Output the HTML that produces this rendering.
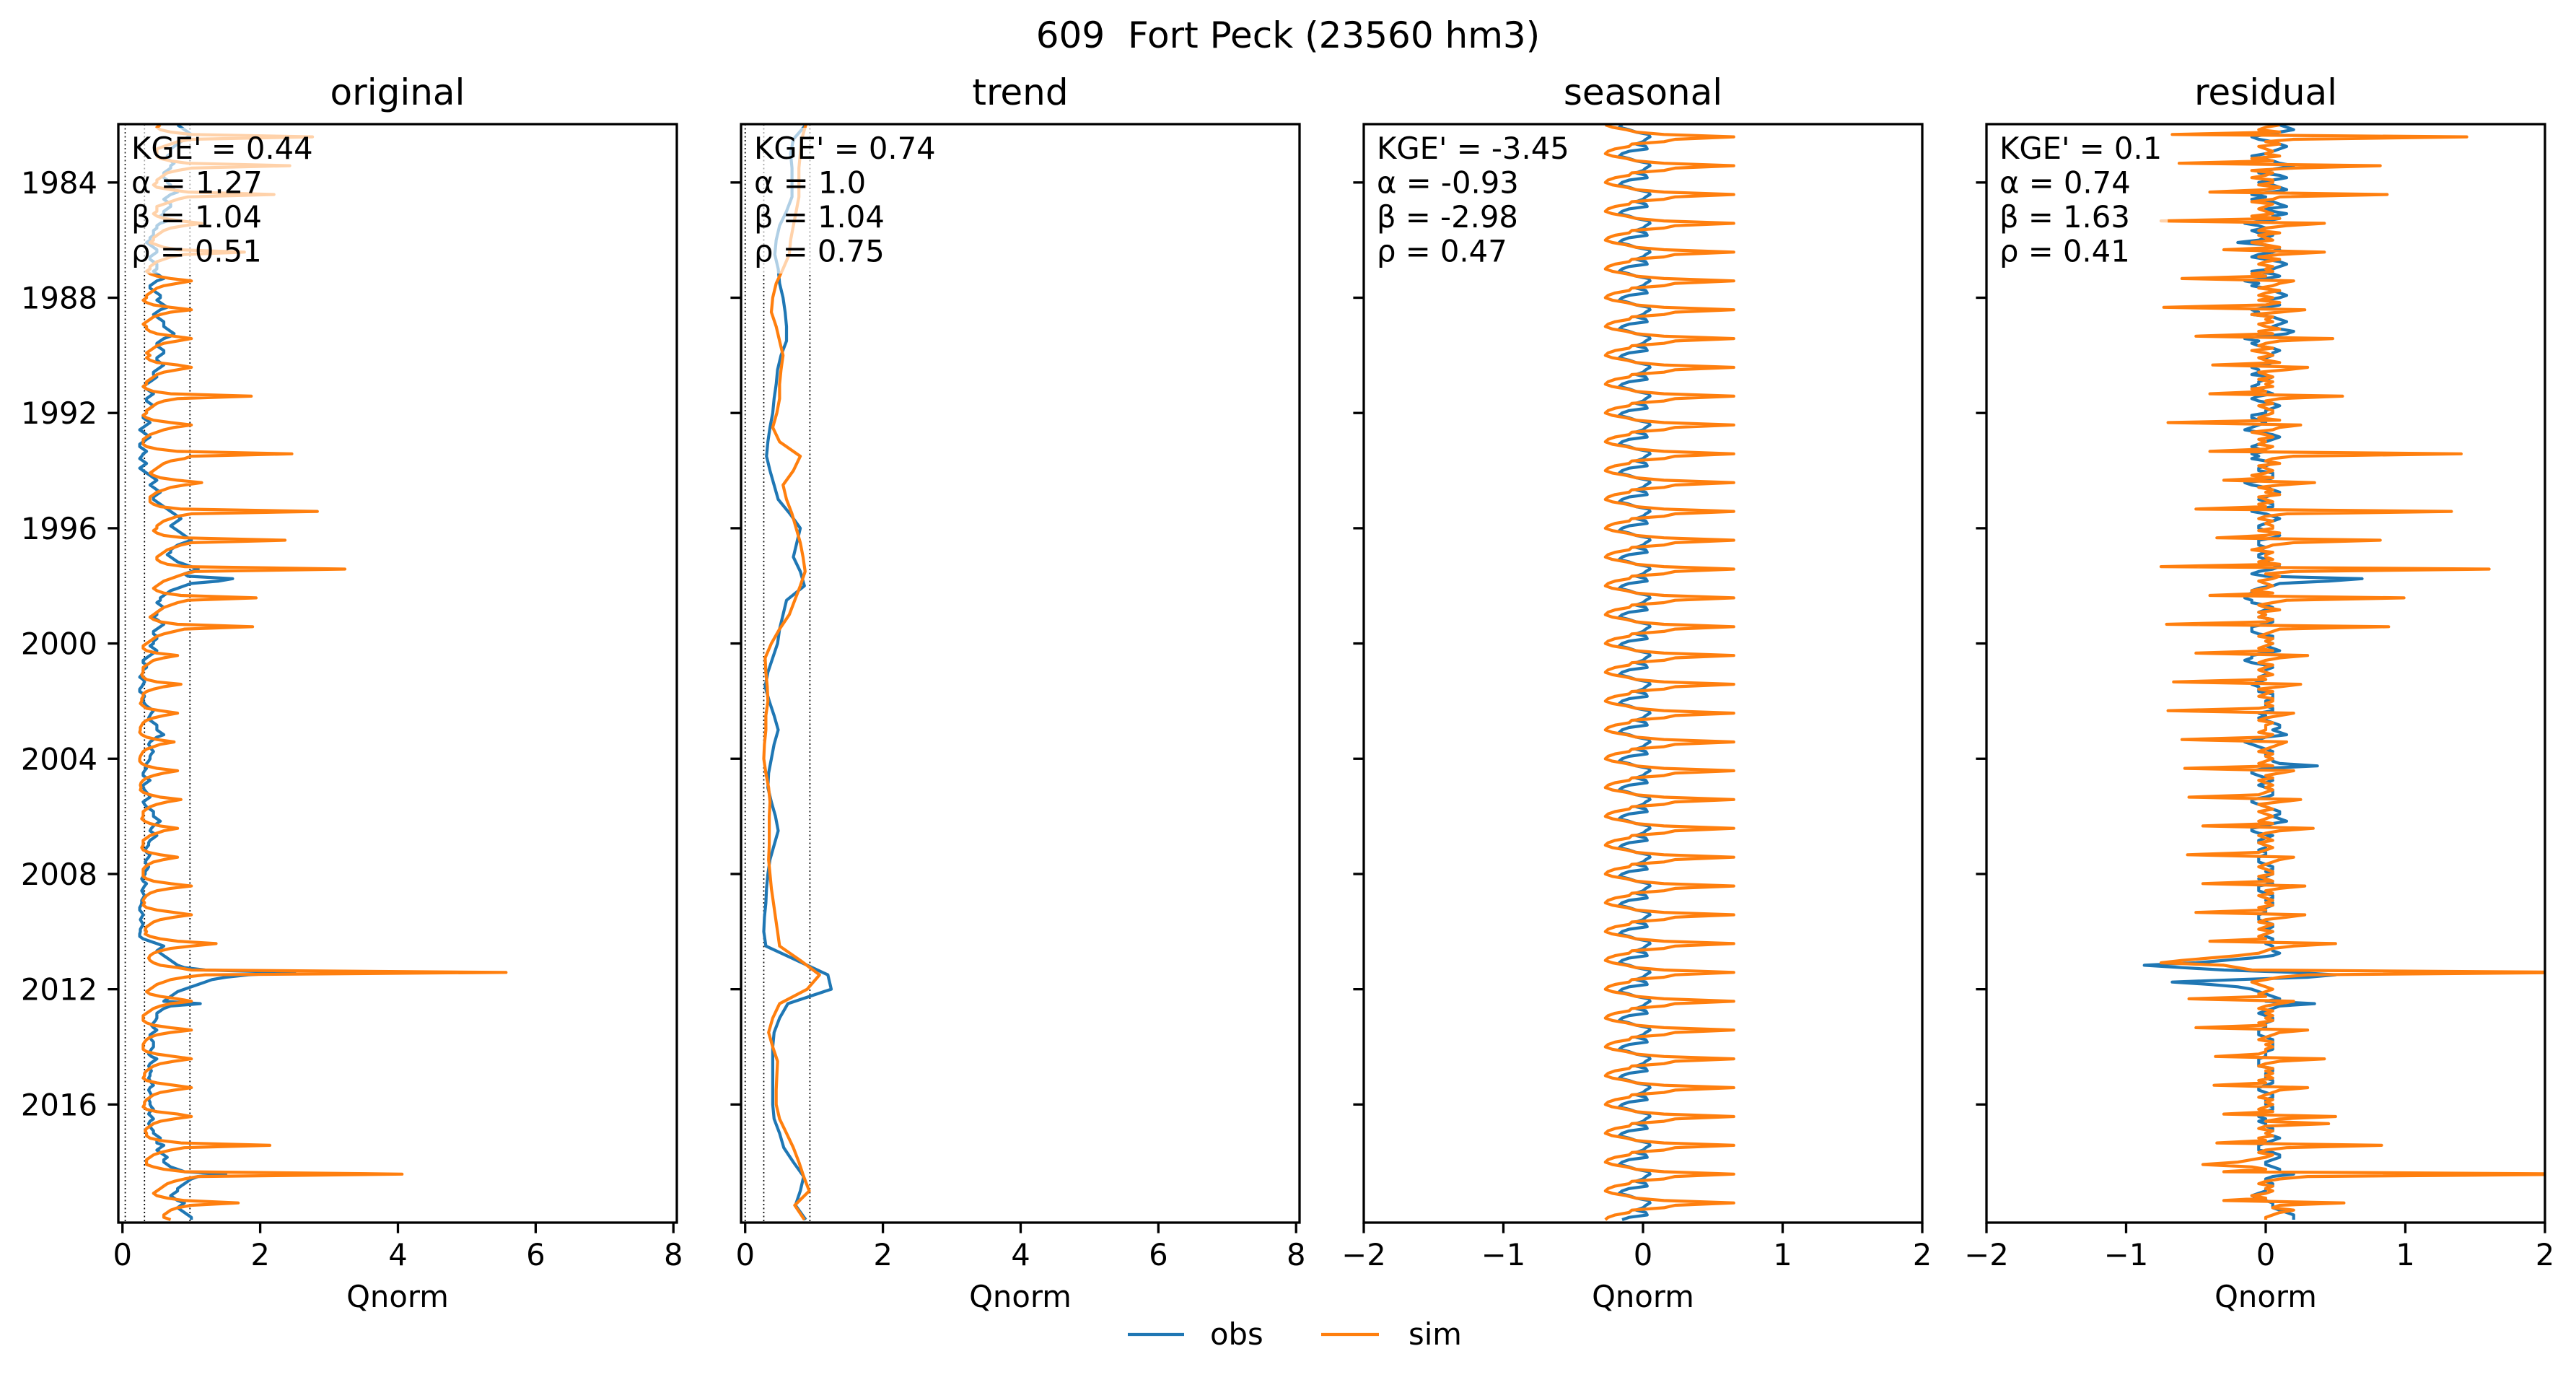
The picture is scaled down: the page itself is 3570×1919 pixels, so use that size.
<!DOCTYPE html>
<html><head><meta charset="utf-8"><style>
html,body{margin:0;padding:0;background:#fff}
svg{display:block;font-family:"DejaVu Sans","Liberation Sans",sans-serif}
</style></head><body>
<svg id="fig" xmlns="http://www.w3.org/2000/svg" width="3570" height="1919" viewBox="0 0 3570 1919">
<rect x="0" y="0" width="3570" height="1919" fill="#fff"/>
<text x="1785" y="66" font-size="50" text-anchor="middle" style="white-space:pre" xml:space="preserve">609  Fort Peck (23560 hm3)</text>
<g>
<line x1="1563" y1="1849" x2="1641" y2="1849" stroke="#1f77b4" stroke-width="4.2"/>
<text x="1677" y="1863" font-size="41.7">obs</text>
<line x1="1831" y1="1849" x2="1911" y2="1849" stroke="#ff7f0e" stroke-width="4.2"/>
<text x="1952" y="1863" font-size="41.7">sim</text>
</g>
</svg>
<script>
// ---------- data ----------
const yearTicks = [1984,1988,1992,1996,2000,2004,2008,2012,2016];
const startYear = 1982;
const panelTitles = ["original","trend","seasonal","residual"];
const statsOriginal = ["KGE' = 0.44","α = 1.27","β = 1.04","ρ = 0.51"];
const statsTrend = ["KGE' = 0.74","α = 1.0","β = 1.04","ρ = 0.75"];
const statsSeasonal = ["KGE' = -3.45","α = -0.93","β = -2.98","ρ = 0.47"];
const statsResidual = ["KGE' = 0.1","α = 0.74","β = 1.63","ρ = 0.41"];
const ticksPositive = [0,2,4,6,8];
const ticksSymmetric = [-2,-1,0,1,2];
const refLinesOriginal = [0.04,0.32,0.98];
const refLinesTrend = [0.0,0.27,0.94];

// monthly original series, Jan 1982 .. Jan 2020
const origObs = [
.8,.85,.9,.95,1.0,.95,.9,.85,.8,.75,.7,.7,
.7,.65,.65,.7,.75,.7,.7,.65,.6,.6,.6,.65,
.65,.7,.7,.75,.8,.7,.65,.6,.65,.7,.7,.65,
.6,.6,.55,.6,.65,.55,.5,.5,.45,.45,.45,.4,
.4,.35,.4,.45,.5,.5,.45,.4,.4,.45,.5,.5,
.5,.45,.5,.55,.6,.5,.45,.4,.4,.45,.5,.55,
.55,.5,.55,.6,.65,.55,.5,.45,.5,.55,.6,.6,
.6,.65,.7,.75,.7,.6,.55,.5,.5,.55,.6,.6,
.55,.5,.5,.55,.6,.55,.5,.45,.45,.5,.45,.4,
.35,.3,.35,.4,.45,.4,.35,.35,.4,.45,.4,.35,
.35,.3,.3,.35,.4,.35,.3,.25,.3,.35,.4,.35,
.3,.25,.25,.3,.35,.3,.28,.25,.3,.35,.3,.25,
.3,.35,.4,.45,.5,.45,.4,.45,.5,.55,.5,.45,
.45,.5,.55,.6,.65,.7,.75,.8,.85,.8,.75,.7,
.75,.8,.85,.9,.95,1.0,.9,.8,.75,.7,.7,.65,
.7,.75,.8,.9,1.0,1.1,1.0,.9,.95,1.6,1.4,1.0,
.9,.8,.7,.65,.6,.55,.55,.5,.55,.6,.55,.5,
.5,.45,.5,.55,.6,.55,.5,.45,.45,.5,.5,.45,
.45,.4,.45,.5,.45,.4,.35,.3,.3,.35,.35,.3,
.3,.28,.25,.3,.32,.3,.28,.25,.25,.3,.32,.3,
.3,.32,.35,.4,.45,.42,.4,.38,.4,.45,.5,.5,
.5,.55,.6,.5,.45,.4,.38,.4,.42,.45,.42,.4,
.4,.38,.35,.33,.35,.32,.3,.3,.35,.4,.35,.3,
.3,.32,.35,.38,.4,.35,.3,.32,.35,.4,.45,.45,
.45,.5,.55,.5,.45,.42,.4,.45,.5,.45,.4,.38,
.38,.35,.33,.35,.4,.38,.35,.33,.35,.38,.36,.33,
.33,.3,.28,.3,.35,.32,.3,.28,.3,.32,.3,.28,
.28,.27,.25,.25,.28,.3,.28,.26,.28,.3,.28,.26,
.26,.25,.25,.3,.4,.5,.6,.55,.5,.55,.6,.65,
.7,.75,.8,.9,1.2,2.5,1.83,1.5,1.3,1.2,1.1,1.0,
.9,.8,.75,.7,.65,.6,1.13,.7,.6,.55,.5,.5,
.5,.48,.45,.42,.45,.5,.45,.4,.4,.42,.45,.45,
.45,.42,.4,.38,.42,.5,.45,.4,.38,.4,.42,.4,
.4,.38,.4,.42,.45,.4,.38,.4,.42,.4,.38,.4,
.4,.42,.45,.4,.38,.42,.45,.4,.38,.4,.42,.45,
.45,.5,.55,.5,.5,.6,.55,.5,.55,.6,.65,.6,
.6,.65,.7,.8,.9,1.5,1.1,1.0,.95,.9,.85,.8,
.8,.75,.7,.75,.8,.9,.85,.8,.85,.9,.95,1.0,
1.0];
const origSim = [
.55,.5,.55,.7,1.0,2.76,1.0,.8,.7,.6,.5,.5,
.5,.5,.55,.7,.95,2.43,1.0,.8,.65,.6,.55,.5,
.5,.45,.5,.7,.95,2.2,.95,.8,.7,.6,.5,.5,
.5,.45,.5,.6,.85,1.15,.9,.7,.6,.55,.5,.45,
.45,.4,.5,.6,.8,1.77,.9,.7,.6,.5,.45,.4,
.4,.35,.4,.5,.7,1.0,.8,.6,.5,.45,.4,.35,
.35,.3,.35,.45,.7,1.0,.7,.55,.45,.4,.35,.3,
.35,.35,.4,.5,.75,1.0,.8,.6,.5,.45,.4,.35,
.4,.35,.4,.5,.8,1.0,.8,.6,.5,.45,.4,.35,
.35,.3,.35,.45,.7,1.87,.8,.6,.5,.45,.4,.35,
.35,.3,.35,.45,.7,1.0,.75,.6,.5,.4,.35,.3,
.3,.3,.35,.5,.8,2.46,1.0,.9,.7,.6,.55,.5,
.45,.4,.45,.55,.8,1.15,.9,.7,.6,.5,.45,.4,
.4,.4,.45,.55,.85,2.83,1.0,.8,.7,.6,.55,.5,
.5,.45,.5,.6,.9,2.36,1.0,.85,.75,.65,.6,.55,
.5,.5,.55,.65,.9,3.23,1.05,.9,.8,.7,.6,.55,
.5,.45,.5,.6,.85,1.94,.95,.8,.7,.6,.55,.5,
.45,.4,.45,.55,.8,1.89,.9,.75,.6,.5,.45,.4,
.35,.3,.3,.35,.5,.8,.6,.45,.4,.35,.3,.3,
.3,.28,.3,.35,.5,.85,.6,.45,.35,.3,.3,.28,
.28,.26,.3,.35,.55,.8,.6,.45,.35,.3,.28,.26,
.26,.25,.28,.35,.5,.75,.55,.45,.35,.3,.28,.26,
.25,.25,.28,.35,.5,.8,.6,.45,.35,.3,.27,.26,
.27,.26,.3,.4,.55,.85,.65,.5,.4,.35,.3,.3,
.3,.28,.32,.4,.55,.8,.6,.5,.4,.35,.3,.3,
.3,.28,.3,.38,.55,.8,.6,.45,.38,.33,.3,.3,
.3,.3,.35,.45,.7,1.0,.7,.5,.4,.35,.32,.3,
.32,.3,.35,.5,.75,1.0,.75,.55,.45,.4,.35,.33,
.35,.33,.4,.55,.8,1.36,1.0,.7,.55,.45,.4,.38,
.4,.45,.55,.8,1.0,5.57,1.2,.9,.7,.6,.5,.45,
.4,.35,.4,.55,.8,1.0,.7,.55,.45,.4,.35,.3,
.3,.3,.35,.45,.7,1.0,.7,.5,.4,.35,.32,.3,
.3,.3,.35,.5,.75,1.0,.75,.55,.45,.4,.35,.32,
.32,.3,.35,.5,.75,1.0,.75,.55,.45,.4,.35,.32,
.32,.3,.35,.5,.8,1.0,.75,.55,.45,.4,.35,.33,
.35,.35,.4,.55,.85,2.14,.9,.7,.55,.45,.4,.35,
.35,.35,.45,.6,.9,4.06,1.1,.9,.75,.65,.6,.55,
.5,.45,.5,.65,.9,1.68,1.0,.8,.7,.65,.6,.6,
.7];

// trend series, half-year steps from 1982.0 to 2020.0
const trendObs = [.88,.7,.66,.68,.68,.68,.6,.5,.45,.43,.48,.5,.55,.58,.6,.6,.52,.47,.45,.42,.4,.36,.33,.31,.36,.42,.48,.65,.8,.75,.7,.8,.86,.6,.55,.5,.47,.4,.33,.29,.35,.42,.48,.42,.38,.34,.33,.38,.44,.48,.42,.36,.33,.31,.3,.28,.27,.3,.75,1.2,1.25,.62,.5,.42,.4,.4,.4,.4,.4,.42,.5,.56,.7,.85,.8,.73,.88];
const trendSim = [.88,.82,.8,.78,.78,.78,.74,.7,.66,.64,.55,.45,.4,.38,.45,.5,.55,.52,.5,.5,.46,.4,.5,.8,.7,.55,.6,.68,.74,.8,.84,.87,.8,.72,.64,.5,.38,.29,.3,.32,.33,.3,.3,.28,.27,.3,.34,.36,.35,.35,.35,.34,.36,.38,.41,.44,.47,.5,.8,1.08,.9,.5,.4,.34,.4,.47,.46,.45,.45,.5,.6,.7,.78,.85,.93,.72,.86];

// seasonal cycle (Jan..Dec), repeated every year
const seasonalObs = [-.15,-.17,-.1,-.05,.04,.05,.02,.0,-.05,.02,.03,-.1];
const seasonalSim = [-.27,-.22,-.12,-.05,.15,.65,.23,.15,-.08,-.1,-.2,-.25];

// monthly residual series
const residObs = [
.1,.15,.2,.1,.0,-.1,-.05,.05,.1,.15,.1,.05,
.0,-.1,-.05,.05,.1,.2,.1,.0,-.05,.1,.15,.05,
-.05,.05,.1,.15,.05,-.1,.0,-.1,.05,.1,.15,.0,
.05,.15,.05,.1,.0,-.15,-.05,.0,-.1,-.05,.05,.0,
-.05,-.2,.0,.05,.1,.05,-.05,-.1,.0,.1,.15,.1,
.05,-.1,.05,.1,.0,-.15,-.05,-.1,.0,.05,.1,.15,
.1,.0,.05,.1,.0,-.1,-.05,-.1,.05,.1,.15,.1,
.05,.1,.2,.15,.0,-.15,-.05,-.1,-.05,.05,.1,.05,
.05,.0,.0,.05,.0,-.1,-.05,-.05,-.1,.05,.0,-.05,
-.05,-.1,-.05,.0,.05,-.05,-.1,-.05,.05,.1,.05,.0,
.0,-.1,-.1,-.05,.0,-.05,-.1,-.15,-.05,.05,.1,.05,
.0,-.05,-.1,-.05,.0,-.1,-.05,-.1,.0,.05,.0,-.05,
-.05,.05,.05,.05,.0,-.15,-.1,.0,.05,.1,.05,.0,
-.05,.0,.05,.05,-.05,-.1,.0,.05,.1,.05,.0,-.05,
-.05,.0,.05,.1,.05,-.05,-.05,-.05,.0,-.05,.0,-.05,
-.05,.0,.0,.05,.1,.05,-.05,-.1,.0,.69,.45,.1,
.05,-.05,-.1,-.1,-.15,-.15,-.1,-.1,.0,.05,.0,-.05,
.0,-.05,.05,.05,.0,-.1,-.1,-.1,-.05,.05,.05,.0,
.05,.0,.05,.1,.0,-.1,-.1,-.15,-.1,.0,.05,.0,
.0,.0,-.05,.0,-.05,-.1,-.05,-.05,-.05,.05,.05,.05,
.0,.0,.0,.05,.05,-.05,.0,-.05,.0,.05,.1,.1,
.05,.1,.15,.0,-.05,-.15,-.1,-.05,.0,.05,.0,.0,
.05,.05,.1,.37,.0,-.1,-.1,-.05,.0,.05,.0,-.05,
.0,.05,.05,.05,.0,-.1,-.1,-.05,.0,.05,.1,.1,
.05,.1,.15,.05,.0,-.1,-.1,-.05,.05,.0,-.05,-.05,
.0,.0,-.05,.0,.0,-.05,-.05,-.05,.0,.05,.05,.0,
.05,.0,-.05,.0,.05,-.05,-.05,-.05,.0,.05,.05,.0,
.05,.05,.0,.0,.0,-.05,-.05,-.05,.0,.05,.05,.0,
.05,.0,.0,.05,.05,.0,.05,.05,.05,.1,.05,-.1,
-.3,-.5,-.87,-.6,-.3,.2,.5,.3,-.2,-.67,-.4,-.2,
-.1,-.05,.0,.05,.1,.0,.35,.1,.05,.0,-.05,.0,
.05,.05,.0,.0,.0,-.05,-.05,-.05,.0,.05,.05,.05,
.05,.05,.0,.0,.0,-.05,-.05,-.05,-.05,.05,.05,.0,
.0,.0,.05,.05,.0,-.05,-.05,.0,.05,.05,.0,.0,
.0,.05,.05,.0,-.05,-.05,.0,-.05,.0,.0,.05,.05,
.0,.05,.1,.05,.0,-.05,-.05,-.05,.05,.1,.1,.05,
.0,.0,.05,.1,.1,.2,.05,.0,.0,.05,.05,.0,
.0,-.05,-.1,-.05,.0,.05,.05,.05,.1,.15,.2,.2,
.2];
const residSim = [
.1,.0,-.05,.1,-.67,1.44,.2,.0,.1,-.05,.0,.05,
.0,.1,-.1,.05,-.62,.82,.2,-.1,.05,.0,-.1,.05,
.05,-.05,.1,.0,-.4,.87,.1,.05,-.1,.05,.0,-.05,
.0,.05,-.1,.1,-.75,.42,.15,.0,-.05,.1,-.05,.0,
.05,-.1,.0,.1,-.3,.42,.1,-.05,.1,.0,-.05,.05,
.0,.05,-.1,.0,-.6,.2,.1,.05,-.05,.1,.0,-.05,
.05,-.05,.1,.0,-.73,.28,.1,-.1,.05,.0,.05,-.05,
.0,.1,-.05,.05,-.5,.48,.1,.0,-.05,.05,-.1,.0,
.05,-.05,.0,.1,-.38,.3,.15,-.05,.0,.05,-.05,.05,
.0,.05,-.1,.0,-.4,.55,.1,.0,.05,-.05,.0,.05,
.05,.0,-.05,.1,-.7,.25,.1,.05,-.1,.0,.05,-.05,
.0,-.05,.05,.0,-.4,1.4,.2,.05,.0,.1,-.05,.0,
.05,.0,-.1,.05,-.3,.35,.1,-.05,.05,.0,.1,-.05,
.0,.05,-.05,.0,-.5,1.33,.15,.0,-.05,.05,.0,.05,
.05,-.05,.1,.0,-.35,.82,.2,.05,.0,-.1,.05,.0,
.0,.05,-.05,.1,-.75,1.6,.2,.0,.1,.05,-.05,.0,
.05,.0,-.1,.05,-.4,.99,.15,.05,-.05,.0,.1,-.05,
.0,-.05,.05,.0,-.71,.88,.1,.05,.0,-.05,.05,.0,
.05,.0,-.05,.05,-.5,.3,.1,.0,-.05,.05,.0,-.05,
.0,.05,-.05,.0,-.66,.25,.1,-.05,.05,.0,-.05,.05,
.05,.0,.05,-.05,-.7,.2,.1,.0,-.05,.05,.0,.0,
.0,-.05,.05,.0,-.6,.15,.1,.05,.0,-.05,.05,.0,
.05,.0,-.05,.05,-.58,.2,.1,.0,.05,-.05,.0,.05,
.0,.05,.0,-.05,-.55,.25,.1,-.05,.0,.05,-.05,.0,
.05,.0,-.05,.05,-.45,.34,.1,.0,-.05,.0,.05,-.05,
.0,.05,.0,-.05,-.56,.2,.1,.05,.0,-.05,.0,.05,
.05,-.05,.0,.05,-.45,.28,.1,.0,.05,-.05,.0,.05,
.0,.05,-.05,.0,-.5,.28,.15,.0,-.05,.05,.0,-.05,
.05,.0,-.05,.0,-.4,.5,.2,.05,.0,-.05,-.2,-.4,
-.6,-.75,-.3,-.2,-.1,2.3,.3,.1,.0,-.1,-.05,.0,
.05,.0,-.05,.0,-.55,.2,.1,.0,-.05,.05,.0,.05,
.0,.05,-.05,.0,-.5,.3,.1,.05,.0,-.05,.05,.0,
.05,.0,.0,-.05,-.36,.42,.1,.0,-.05,.05,.0,.05,
.0,.05,-.05,.0,-.37,.3,.1,.05,.0,-.05,.05,.0,
.05,.0,-.05,.05,-.3,.5,.1,.0,.45,.0,-.05,.05,
.0,.05,-.05,.0,-.35,.83,.15,.0,-.05,.05,.0,-.1,
-.2,-.45,-.1,.0,-.3,2.4,.3,.1,.0,-.05,.05,.0,
.05,.0,-.1,.0,-.3,.56,.1,.05,.2,.1,.05,.0,
.0];

// ---------- drawing ----------
const NS = "http://www.w3.org/2000/svg";
const svg = document.getElementById('fig');
const panelW = 774, panelTop = 172, panelBottom = 1694;
const panelLefts = [164, 1027, 1890, 2753];
const yLim = [1981.975, 2020.1];
function yScale(t){ return panelTop + (t - yLim[0]) / (yLim[1]-yLim[0]) * (panelBottom-panelTop); }
function makeX(left, lo, hi){ return v => left + (v-lo)/(hi-lo)*panelW; }
function el(tag, attrs, parent){
  const e = document.createElementNS(NS, tag);
  for (const k in attrs) e.setAttribute(k, attrs[k]);
  (parent||svg).appendChild(e);
  return e;
}
function fmt(v){ return (v<0?'\u2212':'') + Math.abs(v); }

const panels = [
  {name:'original', lim:[-0.06,8.05], ticks:ticksPositive, obs:origObs, sim:origSim, step:1/12, stats:statsOriginal, refs:refLinesOriginal},
  {name:'trend', lim:[-0.06,8.05], ticks:ticksPositive, obs:trendObs, sim:trendSim, step:0.5, stats:statsTrend, refs:refLinesTrend},
  {name:'seasonal', lim:[-2,2], ticks:ticksSymmetric, obs:null, sim:null, step:1/12, stats:statsSeasonal, refs:[]},
  {name:'residual', lim:[-2,2], ticks:ticksSymmetric, obs:residObs, sim:residSim, step:1/12, stats:statsResidual, refs:[]}
];

panels.forEach((p, pi) => {
  const left = panelLefts[pi];
  const xs = makeX(left, p.lim[0], p.lim[1]);
  const g = el('g', {});
  
  
  const cp = el('clipPath', {id:'clip'+pi}, g);
  el('rect', {x:left, y:panelTop, width:panelW, height:panelBottom-panelTop}, cp);
  const title = el('text', {x:left+panelW/2, y:145, 'font-size':50, 'text-anchor':'middle'}, g);
  title.textContent = panelTitles[pi];
  
  

  const plot = el('g', {'clip-path':'url(#clip'+pi+')'}, g);
  p.refs.forEach(r => {
    const l = el('line', {x1:xs(r), x2:xs(r), y1:panelTop, y2:panelBottom, stroke:'#000', 'stroke-width':1.7, 'stroke-dasharray':'2,3.5'}, plot);
    
    
  });
  let obs = p.obs, sim = p.sim;
  if (p.name === 'seasonal') {
    obs = []; sim = [];
    for (let i = 0; i < origObs.length; i++) { obs.push(seasonalObs[i % 12]); sim.push(seasonalSim[i % 12]); }
  }
  [[obs,'#1f77b4','obs'],[sim,'#ff7f0e','sim']].forEach(([arr,col,nm]) => {
    const d = arr.map((v,i) => (i?'L':'M') + xs(v).toFixed(1) + ',' + yScale(startYear + i*p.step).toFixed(1)).join(' ');
    const path = el('path', {d:d, fill:'none', stroke:col, 'stroke-width':4.2, 'stroke-linejoin':'round'}, plot);
    
    
  });
  const box = el('rect', {x:left+10, y:panelTop+5, width:10, height:10, fill:'#fff', 'fill-opacity':0.65}, g);
  
  
  const tg = el('g', {}, g);
  let maxW = 0;
  p.stats.forEach((s, si) => {
    const t = el('text', {x:left+18, y:panelTop+48+si*47.5, 'font-size':41.7}, tg);
    t.textContent = s;
    
    
    maxW = Math.max(maxW, t.getComputedTextLength());
  });
  box.setAttribute('width', maxW + 16);
  box.setAttribute('height', 4*47.5 + 12);
  const fr = el('rect', {x:left, y:panelTop, width:panelW, height:panelBottom-panelTop, fill:'none', stroke:'#000', 'stroke-width':3.3}, g);
  
  
  p.ticks.forEach(v => {
    const x = xs(v);
    el('line', {x1:x, x2:x, y1:panelBottom, y2:panelBottom+14.6, stroke:'#000', 'stroke-width':3.3}, g);
    const t = el('text', {x:x, y:panelBottom+59, 'font-size':41.7, 'text-anchor':'middle'}, g);
    t.textContent = fmt(v);
    
    
  });
  const xl = el('text', {x:left+panelW/2, y:1811, 'font-size':41.7, 'text-anchor':'middle'}, g);
  xl.textContent = 'Qnorm';
  
  
  yearTicks.forEach(yr => {
    const y = yScale(yr);
    el('line', {x1:left-14.6, x2:left, y1:y, y2:y, stroke:'#000', 'stroke-width':3.3}, g);
    if (pi === 0) {
      const t = el('text', {x:left-29, y:y+15, 'font-size':41.7, 'text-anchor':'end'}, g);
      t.textContent = yr;
      
      
    }
  });
});
</script>
</body></html>
